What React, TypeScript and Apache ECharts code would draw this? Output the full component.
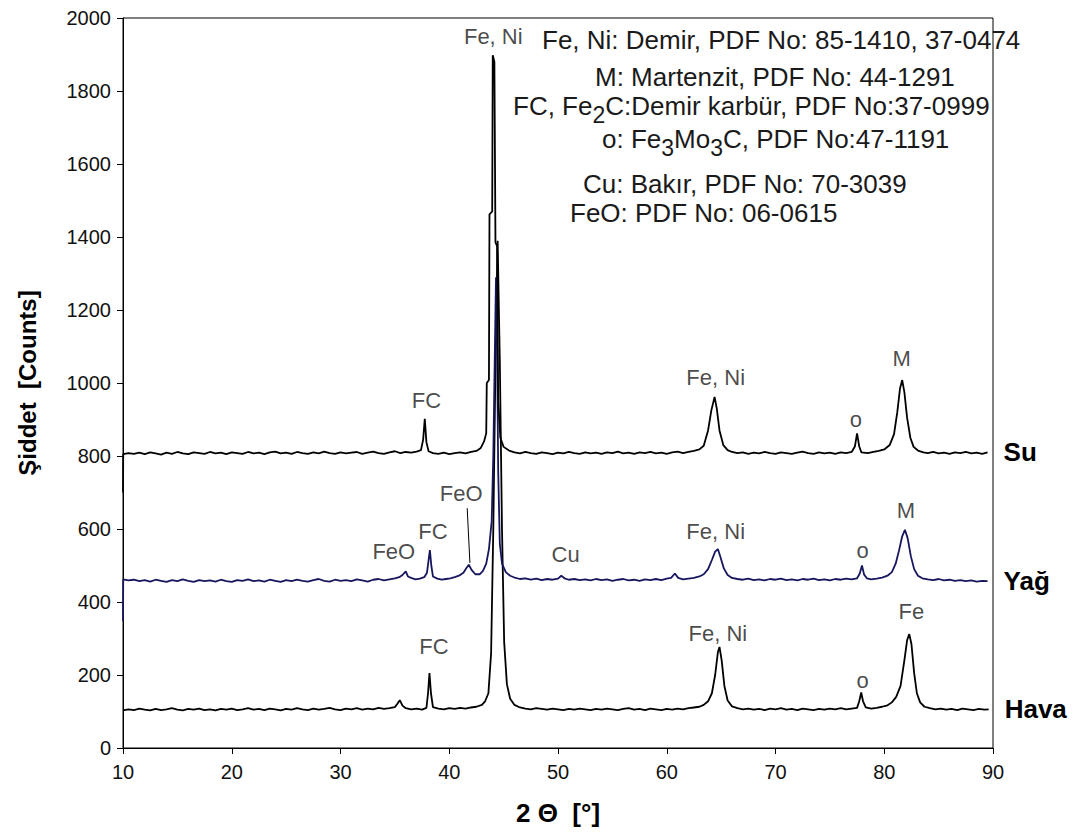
import React, { useEffect, useRef } from "react";
import * as echarts from "echarts";

const FONT = "'Liberation Sans', Arial, sans-serif";

const xTicks = { min: 10, max: 90, interval: 10 };
const yTicks = { min: 0, max: 2000, interval: 200 };

const seriesNames = ["Su", "Yağ", "Hava"];
const seriesColors = ["#000000", "#16165e", "#000000"];

const suData: number[][] = [
  [10,700],[10.02,805],[10.5,808],[11,806],[11.5,809],[12,805],[12.5,810],[13,807],[13.5,804],[14,809],[14.5,806],[15,811],[15.5,807],[16,805],[16.5,810],[17,808],[17.5,806],[18,811],[18.5,807],[19,809],[19.5,805],[20,810],[20.5,808],[21,806],[21.5,811],[22,807],[22.5,809],[23,805],[23.5,810],[24,812],[24.5,807],[25,809],[25.5,806],[26,811],[26.5,808],[27,806],[27.5,810],[28,807],[28.5,812],[29,808],[29.5,806],[30,810],[30.5,807],[31,809],[31.5,811],[32,806],[32.5,809],[33,812],[33.5,808],[34,806],[34.5,810],[35,813],[35.5,808],[36,811],[36.5,809],[37,812],[37.4,816],[37.6,845],[37.75,902],[37.9,838],[38.1,813],[38.5,808],[39,806],[39.5,809],[40,805],[40.5,808],[41,810],[41.5,807],[42,811],[42.5,814],[42.9,822],[43.2,840],[43.4,862],[43.45,1000],[43.65,1008],[43.7,1462],[43.95,1470],[44.0,1898],[44.15,1880],[44.25,1385],[44.4,1375],[44.5,950],[44.7,850],[45,825],[45.5,815],[46,810],[46.5,807],[47,811],[47.5,808],[48,806],[48.5,810],[49,808],[49.5,805],[50,809],[50.5,807],[51,811],[51.5,808],[52,806],[52.5,810],[53,807],[53.5,809],[54,806],[54.5,810],[55,808],[55.5,812],[56,807],[56.5,809],[57,806],[57.5,810],[58,808],[58.5,811],[59,807],[59.5,809],[60,806],[60.5,810],[61,812],[61.5,808],[62,811],[62.5,814],[63,818],[63.4,828],[63.8,870],[64.1,925],[64.4,962],[64.6,930],[64.85,870],[65.2,830],[65.6,816],[66,811],[66.5,808],[67,810],[67.5,806],[68,809],[68.5,807],[69,811],[69.5,808],[70,806],[70.5,810],[71,808],[71.5,806],[72,809],[72.5,812],[73,808],[73.5,806],[74,810],[74.5,807],[75,809],[75.5,806],[76,810],[76.5,808],[77,811],[77.3,826],[77.5,862],[77.7,826],[77.9,810],[78.5,808],[79,811],[79.5,814],[80,818],[80.5,830],[80.9,860],[81.2,920],[81.45,985],[81.65,1008],[81.85,975],[82.1,905],[82.4,850],[82.7,825],[83.1,815],[83.6,810],[84,808],[84.5,811],[85,807],[85.5,809],[86,806],[86.5,810],[87,808],[87.5,811],[88,807],[88.5,809],[89,806],[89.5,810]
];

const yagData: number[][] = [
  [10,348],[10.02,462],[10.5,459],[11,461],[11.5,457],[12,460],[12.5,456],[13,461],[13.5,458],[14,455],[14.5,460],[15,457],[15.5,462],[16,458],[16.5,455],[17,460],[17.5,457],[18,459],[18.5,456],[19,461],[19.5,457],[20,455],[20.5,460],[21,458],[21.5,462],[22,457],[22.5,459],[23,456],[23.5,461],[24,458],[24.5,455],[25,460],[25.5,457],[26,461],[26.5,458],[27,456],[27.5,460],[28,463],[28.5,458],[29,456],[29.5,461],[30,458],[30.5,460],[31,457],[31.5,462],[32,459],[32.5,456],[33,461],[33.5,463],[34,459],[34.5,462],[35,465],[35.4,468],[35.7,474],[36.0,484],[36.2,470],[36.5,466],[36.9,462],[37.3,464],[37.7,468],[37.95,480],[38.1,515],[38.22,542],[38.35,500],[38.5,470],[38.9,464],[39.3,461],[39.7,463],[40.1,465],[40.5,468],[40.9,472],[41.3,480],[41.55,492],[41.8,502],[42.05,488],[42.4,476],[42.8,476],[43.1,485],[43.4,505],[43.65,545],[43.9,620],[44.05,800],[44.2,1100],[44.3,1290],[44.4,1100],[44.5,760],[44.65,560],[44.85,505],[45.2,482],[45.6,472],[46,467],[46.5,463],[47,465],[47.5,461],[48,464],[48.5,460],[49,463],[49.5,461],[50,464],[50.3,472],[50.6,465],[51,461],[51.5,463],[52,460],[52.5,462],[53,459],[53.5,463],[54,460],[54.5,462],[55,458],[55.5,461],[56,463],[56.5,459],[57,461],[57.5,458],[58,462],[58.5,460],[59,463],[59.5,460],[60,464],[60.4,466],[60.75,478],[61.05,466],[61.5,462],[62,464],[62.5,466],[63,470],[63.4,476],[63.8,490],[64.15,515],[64.45,538],[64.7,545],[64.95,522],[65.25,492],[65.6,474],[66,466],[66.5,463],[67,461],[67.5,464],[68,460],[68.5,462],[69,459],[69.5,463],[70,461],[70.5,464],[71,460],[71.5,462],[72,459],[72.5,463],[73,461],[73.5,464],[74,460],[74.5,462],[75,459],[75.5,463],[76,461],[76.5,464],[77,462],[77.5,465],[77.75,478],[77.95,500],[78.15,475],[78.4,465],[78.8,462],[79.3,464],[79.8,467],[80.3,472],[80.7,482],[81.05,505],[81.35,540],[81.65,580],[81.9,598],[82.15,575],[82.45,525],[82.75,490],[83.1,472],[83.5,465],[84,462],[84.5,460],[85,463],[85.5,459],[86,461],[86.5,458],[87,460],[87.5,457],[88,459],[88.5,456],[89,458],[89.5,457]
];

const havaData: number[][] = [
  [10,103],[10.5,106],[11,104],[11.5,108],[12,105],[12.5,103],[13,107],[13.5,104],[14,106],[14.5,109],[15,105],[15.5,103],[16,107],[16.5,105],[17,108],[17.5,104],[18,106],[18.5,103],[19,107],[19.5,105],[20,108],[20.5,104],[21,106],[21.5,109],[22,105],[22.5,107],[23,104],[23.5,108],[24,106],[24.5,103],[25,107],[25.5,105],[26,109],[26.5,106],[27,104],[27.5,108],[28,105],[28.5,107],[29,110],[29.5,106],[30,104],[30.5,108],[31,106],[31.5,109],[32,105],[32.5,108],[33,106],[33.5,110],[34,107],[34.5,109],[35,112],[35.25,122],[35.45,131],[35.7,116],[36,109],[36.5,106],[37,108],[37.5,105],[37.9,110],[38.05,150],[38.18,205],[38.32,150],[38.5,112],[39,108],[39.5,106],[40,109],[40.5,107],[41,110],[41.5,108],[42,111],[42.5,113],[43,118],[43.3,128],[43.6,150],[43.85,260],[44.05,600],[44.25,1050],[44.45,1390],[44.65,1060],[44.85,600],[45.05,290],[45.3,175],[45.6,135],[46,118],[46.5,111],[47,108],[47.5,106],[48,109],[48.5,107],[49,105],[49.5,108],[50,106],[50.5,104],[51,107],[51.5,105],[52,108],[52.5,106],[53,104],[53.5,107],[54,105],[54.5,108],[55,106],[55.5,104],[56,107],[56.5,109],[57,105],[57.5,107],[58,104],[58.5,108],[59,106],[59.5,104],[60,107],[60.5,105],[61,108],[61.5,106],[62,109],[62.5,111],[63,113],[63.4,118],[63.8,128],[64.15,150],[64.45,200],[64.7,262],[64.85,277],[65.05,240],[65.3,170],[65.6,130],[66,114],[66.5,109],[67,106],[67.5,108],[68,105],[68.5,107],[69,104],[69.5,108],[70,106],[70.5,109],[71,105],[71.5,107],[72,104],[72.5,108],[73,106],[73.5,104],[74,107],[74.5,105],[75,108],[75.5,106],[76,109],[76.5,106],[77,108],[77.5,110],[77.7,128],[77.88,152],[78.05,128],[78.3,111],[78.8,108],[79.3,110],[79.8,113],[80.3,117],[80.7,125],[81.1,140],[81.5,170],[81.85,240],[82.1,295],[82.3,312],[82.5,285],[82.75,205],[83.0,150],[83.3,125],[83.7,113],[84.2,109],[84.7,106],[85.2,108],[85.7,105],[86.2,107],[86.7,104],[87.2,108],[87.7,106],[88.2,104],[88.7,107],[89.2,105],[89.6,106]
];

// peak annotation labels (data coordinates of label centres)
const labelX = [37.9, 44.05, 64.5, 77.4, 81.6, 34.9, 38.5, 41.1, 50.7, 64.5, 78.0, 82.0, 38.6, 64.7, 78.0, 82.5];
const labelY = [953, 1950, 1014, 901, 1068, 537, 592, 696, 529, 592, 542, 652, 277, 315, 186, 373];
const labelText = ["FC", "Fe, Ni", "Fe, Ni", "o", "M", "FeO", "FC", "FeO", "Cu", "Fe, Ni", "o", "M", "FC", "Fe, Ni", "o", "Fe"];

// leader line for the upper FeO label
const leaderLine = [[41.65, 657], [41.9, 507]];

// phase legend lines
const legendLines = [
  "{n|Fe, Ni: Demir, PDF No: 85-1410, 37-0474}",
  "{n|M: Martenzit, PDF No: 44-1291}",
  "{n|FC, Fe}{s|2}{n|C:Demir karbür, PDF No:37-0999}",
  "{n|o: Fe}{s|3}{n|Mo}{s|3}{n|C, PDF No:47-1191}",
  "{n|Cu: Bakır, PDF No: 70-3039}",
  "{n|FeO: PDF No: 06-0615}",
];
const legendPos = [
  [542, 40], [595, 77], [513, 106], [602, 139], [583, 184], [570, 213],
];

export default function App() {
  const ref = useRef<HTMLDivElement>(null);
  useEffect(() => {
    if (!ref.current) return;
    const chart = echarts.init(ref.current, undefined, { renderer: "svg" });
    const datasets = [suData, yagData, havaData];
    const lineSeries = datasets.map((d, i) => ({
      type: "line",
      name: seriesNames[i],
      data: d,
      showSymbol: false,
      symbol: "none",
      z: 3 - i + 2,
      lineStyle: { color: seriesColors[i], width: 1.8 },
      itemStyle: { color: seriesColors[i] },
      endLabel: {
        show: true,
        formatter: seriesNames[i],
        color: "#000",
        fontFamily: FONT,
        fontWeight: "bold",
        fontSize: 26,
        distance: 16,
      },
      markLine:
        i === 1
          ? {
              silent: true,
              symbol: "none",
              label: { show: false },
              lineStyle: { color: "#000", width: 1, type: "solid" },
              data: [[{ coord: leaderLine[0] }, { coord: leaderLine[1] }]],
            }
          : undefined,
    }));
    const labelSeries = {
      type: "scatter",
      name: "labels",
      symbolSize: 1,
      itemStyle: { color: "rgba(0,0,0,0)" },
      z: 10,
      data: labelX.map((x, i) => ({ value: [x, labelY[i]], name: labelText[i] })),
      label: {
        show: true,
        position: "inside",
        formatter: (p: any) => p.name,
        color: "#1a1a1a",
        fontFamily: FONT,
        fontSize: 22,
      },
      labelLayout: { hideOverlap: false },
    };
    chart.setOption({
      animation: false,
      backgroundColor: "#ffffff",
      grid: {
        left: 123,
        right: 92,
        top: 18,
        bottom: 91,
        show: true,
        borderColor: "#000",
        borderWidth: 1,
        backgroundColor: "transparent",
      },
      xAxis: {
        type: "value",
        min: xTicks.min,
        max: xTicks.max,
        interval: xTicks.interval,
        name: "2 Θ  [°]",
        nameLocation: "middle",
        nameGap: 52,
        nameTextStyle: { fontFamily: FONT, fontWeight: "bold", fontSize: 26, color: "#000" },
        axisLine: { onZero: false, lineStyle: { color: "#000", width: 1 } },
        axisTick: { show: true, inside: false, length: 6, lineStyle: { color: "#000" } },
        axisLabel: { fontFamily: FONT, fontSize: 20, color: "#111", margin: 14 },
        splitLine: { show: false },
      },
      yAxis: {
        type: "value",
        min: yTicks.min,
        max: yTicks.max,
        interval: yTicks.interval,
        name: "Şiddet  [Counts]",
        nameLocation: "middle",
        nameGap: 84,
        nameTextStyle: { fontFamily: FONT, fontWeight: "bold", fontSize: 24, color: "#000" },
        axisLine: { show: true, onZero: false, lineStyle: { color: "#000", width: 1 } },
        axisTick: { show: true, inside: false, length: 6, lineStyle: { color: "#000" } },
        axisLabel: {
          fontFamily: FONT,
          fontSize: 20,
          color: "#111",
          margin: 12,
          formatter: (v: number) => String(v),
        },
        splitLine: { show: false },
      },
      series: [...lineSeries, labelSeries],
      graphic: legendLines.map((t, i) => ({
        type: "text",
        x: legendPos[i][0],
        y: legendPos[i][1],
        z: 20,
        style: {
          text: t,
          fill: "#1a1a1a",
          verticalAlign: "middle",
          align: "left",
          rich: {
            n: { fontFamily: FONT, fontSize: 26, fill: "#1a1a1a", color: "#1a1a1a" },
            s: { fontFamily: FONT, fontSize: 23, color: "#1a1a1a", padding: [18, 0, 0, 0] },
          },
        },
      })),
    });
    return () => chart.dispose();
  }, []);
  return (
    <div
      ref={ref}
      style={{ position: "fixed", left: 0, top: 0, width: 1085, height: 839, background: "#fff" }}
    />
  );
}
